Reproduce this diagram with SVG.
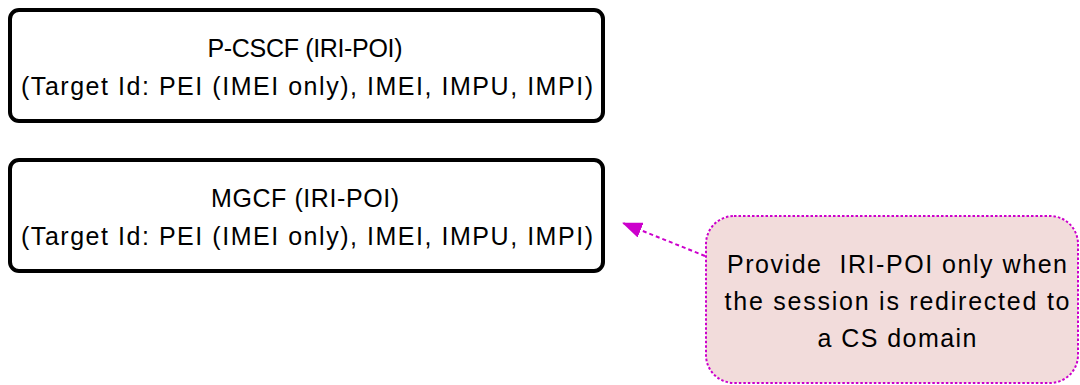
<svg xmlns="http://www.w3.org/2000/svg" width="1080" height="385" viewBox="0 0 1080 385">
  <style>
    .box { fill: #ffffff; stroke: #000000; stroke-width: 4; }
    .note { fill: #F2DCDB; stroke: #CC00CC; stroke-width: 2; stroke-dasharray: 2.5 2; }
    .t { font-family: "Liberation Sans", Arial, sans-serif; font-size: 25px; fill: #000000; text-anchor: middle; white-space: pre; }
    .conn { fill: none; stroke: #CC00CC; stroke-width: 2; stroke-dasharray: 4 3; }
  </style>
  <defs>
    <marker id="arrow" markerWidth="20" markerHeight="16" refX="19" refY="8" orient="auto" markerUnits="userSpaceOnUse">
      <path d="M0,0 L20,8 L0,16 Z" fill="#CC00CC"/>
    </marker>
  </defs>
  <rect x="0" y="0" width="1080" height="385" fill="#ffffff"/>
  <g id="pcscf">
    <rect class="box" x="10" y="10" width="593" height="111" rx="9"/>
    <text class="t" x="305" y="57" textLength="195" lengthAdjust="spacing">P-CSCF (IRI-POI)</text>
    <text class="t" x="307" y="95" textLength="572" lengthAdjust="spacing">(Target Id: PEI (IMEI only), IMEI, IMPU, IMPI)</text>
  </g>
  <g id="mgcf">
    <rect class="box" x="10" y="160" width="593" height="111" rx="9"/>
    <text class="t" x="305" y="207" textLength="188" lengthAdjust="spacing">MGCF (IRI-POI)</text>
    <text class="t" x="307" y="245" textLength="572" lengthAdjust="spacing">(Target Id: PEI (IMEI only), IMEI, IMPU, IMPI)</text>
  </g>
  <g id="note">
    <rect class="note" x="706" y="216" width="372" height="167" rx="28"/>
    <text class="t" x="897" y="273" textLength="340" lengthAdjust="spacing">Provide  IRI-POI only when</text>
    <text class="t" x="897" y="310" textLength="345" lengthAdjust="spacing">the session is redirected to</text>
    <text class="t" x="897" y="347" textLength="159" lengthAdjust="spacing">a CS domain</text>
  </g>
  <g id="connectors">
    <line class="conn" x1="705" y1="256" x2="623" y2="223" marker-end="url(#arrow)"/>
  </g>
</svg>
